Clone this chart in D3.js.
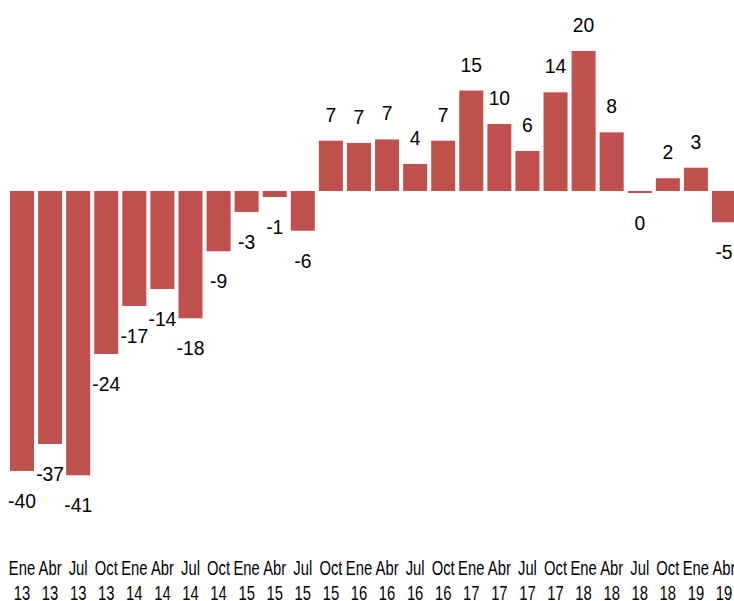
<!DOCTYPE html>
<html>
<head>
<meta charset="utf-8">
<script src="https://cdn.jsdelivr.net/npm/d3@7"></script>
<style>
  body { margin: 0; background: #fff; }
  text { font-family: "Liberation Sans", Arial, sans-serif; fill: #000; }
</style>
</head>
<body>
<script>
// datos: trimestres Ene 13 - Abr 19
var months = ["Ene","Abr","Jul","Oct","Ene","Abr","Jul","Oct","Ene","Abr","Jul","Oct","Ene","Abr","Jul","Oct",
              "Ene","Abr","Jul","Oct","Ene","Abr","Jul","Oct","Ene","Abr"];
var years = ["13","13","13","13","14","14","14","14","15","15","15","15","16","16","16","16",
             "17","17","17","17","18","18","18","18","19","19"];
var values = [-40.45, -36.56, -41.08, -23.55, -16.62, -14.16, -18.4, -8.71, -3.03, -0.87, -5.74, 7.27,
              6.94, 7.45, 3.9, 7.27, 14.52, 9.68, 5.78, 14.26, 20.23, 8.48, -0.29, 1.84, 3.37, -4.52];

var W = 734, H = 601;
var data = values.map(function(v, i){ return {i: i, m: months[i], y: years[i], v: v}; });

var svg = d3.select("body").append("svg")
    .attr("width", W)
    .attr("height", H);

// escalas
var x = d3.scaleBand()
    .domain(d3.range(data.length))
    .range([10, 736])
    .paddingInner(0.145)
    .paddingOuter(0);

var k = 6.92; // px por unidad
var y = d3.scaleLinear()
    .domain([-42, 21])
    .range([191 + 42 * k, 191 - 21 * k]);

// barras
svg.selectAll("rect.bar")
    .data(data)
    .enter()
    .append("rect")
    .attr("class", "bar")
    .attr("x", function(d){ return x(d.i); })
    .attr("width", x.bandwidth())
    .attr("y", function(d){ return Math.min(y(d.v), y(0)); })
    .attr("height", function(d){ return Math.abs(y(d.v) - y(0)); })
    .style("fill", "#C0504D");

// etiquetas de valor
function fmt(v){ var r = Math.round(v); return r === 0 ? "0" : String(r); }

svg.selectAll("text.lab")
    .data(data)
    .enter()
    .append("text")
    .attr("class", "lab")
    .attr("text-anchor", "middle")
    .style("font-size", "21px")
    .attr("transform", function(d){
        var cx = x(d.i) + x.bandwidth()/2;
        var ty = d.v >= 0 ? y(d.v) - 19 : y(d.v) + 37;
        return "translate(" + cx + "," + ty + ") scale(0.92,1)"; })
    .text(function(d){ return fmt(d.v); });

// eje x (dos lineas: mes / año)
var ax = svg.append("g").attr("class", "x axis");
ax.selectAll("text.m")
    .data(data)
    .enter()
    .append("text")
    .attr("class", "m")
    .attr("text-anchor", "middle")
    .style("font-size", "20px")
    .attr("transform", function(d){
        return "translate(" + (x(d.i) + x.bandwidth()/2) + ",575) scale(0.74,1)"; })
    .text(function(d){ return d.m; });
ax.selectAll("text.yr")
    .data(data)
    .enter()
    .append("text")
    .attr("class", "yr")
    .attr("text-anchor", "middle")
    .style("font-size", "20px")
    .attr("transform", function(d){
        return "translate(" + (x(d.i) + x.bandwidth()/2) + ",600) scale(0.74,1)"; })
    .text(function(d){ return d.y; });
</script>
</body>
</html>
